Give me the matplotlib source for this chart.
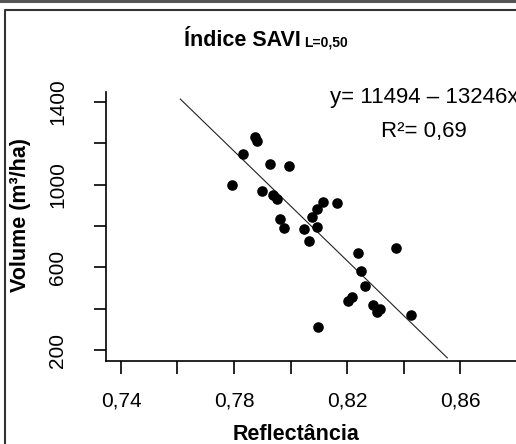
import matplotlib
matplotlib.use('Agg')
import matplotlib.pyplot as plt
from matplotlib.lines import Line2D

plt.rcParams['font.family'] = ['Liberation Sans', 'DejaVu Sans']

# dados
reflect = [0.7874, 0.7880, 0.7831, 0.7929, 0.7994, 0.7793, 0.7900, 0.7938, 0.7953,
           0.8116, 0.8166, 0.8093, 0.8077, 0.7964, 0.7978, 0.8048, 0.8093, 0.8067,
           0.8372, 0.8238, 0.8251, 0.8263, 0.8219, 0.8204, 0.8291, 0.8317, 0.8307,
           0.8427, 0.8096]
volume = [1229, 1213, 1148, 1101, 1089, 997, 971, 948, 932,
          918, 911, 881, 845, 832, 792, 785, 794, 726,
          694, 668, 581, 511, 456, 437, 416, 398, 382,
          371, 311]
coef_a = 11494
coef_b = 13246
xticks = [0.74, 0.76, 0.78, 0.80, 0.82, 0.84, 0.86]
xticklabels = ['0,74', '', '0,78', '', '0,82', '', '0,86']
yticks = [200, 400, 600, 800, 1000, 1200, 1400]
yticklabels = ['200', '', '600', '', '1000', '', '1400']

fig = plt.figure(figsize=(5.16, 4.44), dpi=100)
ax = fig.add_axes([106/516, 1-361/444, 1-106/516, (361-92)/444])

ax.scatter(reflect, volume, s=58, color='black', zorder=3, linewidths=0)
xr = [0.761, 0.8555]
ax.plot(xr, [coef_a - coef_b*v for v in xr], color='#222222', lw=0.8)

ax.set_xlim(0.7347, 0.8798)
ax.set_ylim(147, 1448)
ax.set_xticks(xticks)
ax.set_xticklabels(xticklabels, fontsize=15)
ax.set_yticks(yticks)
ax.set_yticklabels(yticklabels, fontsize=15, rotation=90, va='center')
ax.tick_params(direction='out', length=9, width=1.2, pad=13)
ax.tick_params(axis='y', pad=19)
for s in ['top', 'right']:
    ax.spines[s].set_visible(False)
for s in ['left', 'bottom']:
    ax.spines[s].set_linewidth(1.2)

fig.text(296/516, 1-434/444, 'Reflectância', fontsize=15.5, fontweight='bold',
         ha='center', va='center')
fig.text(21/516, 1-215/444, 'Volume (m³/ha)', fontsize=15.5, fontweight='bold',
         ha='center', va='center', rotation=90)

# título com subscrito
fig.text(184/516, 1-46/444, 'Índice SAVI', fontsize=15.5, fontweight='bold',
         ha='left', va='baseline')
fig.text(304/516, 1-46/444, 'L=0,50', fontsize=10, fontweight='bold',
         ha='left', va='baseline')

fig.text(330/516, 1-97/444, 'y= 11494 – 13246x', fontsize=16, ha='left', va='center')
fig.text(381/516, 1-131/444, 'R²= 0,69', fontsize=16, ha='left', va='center')

# moldura
fig.add_artist(Line2D([0, 1], [1-1/444, 1-1/444], color='#555555', lw=2.2,
                      transform=fig.transFigure))
fig.add_artist(Line2D([1.1, 5/516, 5/516], [1-10/444, 1-10/444, -0.1], color='#333333',
                      lw=1.5, transform=fig.transFigure))

fig.savefig('out.png', dpi=100)
